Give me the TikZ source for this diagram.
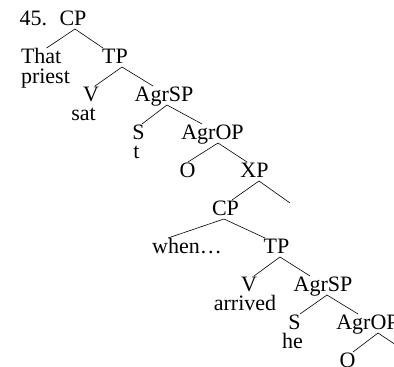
\documentclass[tikz,border=0pt]{standalone}
\usepackage{fontspec}
\setmainfont{Liberation Serif}
\begin{document}
\begin{tikzpicture}[x=1pt,y=-1pt,
  lab/.style={inner sep=0pt,outer sep=0pt,text height=15pt,text depth=4pt,anchor=base,font=\fontsize{22}{19}\selectfont},
  labw/.style={lab,anchor=base west},
  branch/.style={line width=0.6pt,black}]
\useasboundingbox (0,0) rectangle (394,367);
% labels
\node[lab] (num) at (33.5,25) {45.};
\node[lab] (cp1) at (73,25) {CP};
\node[labw] (that) at (21,63) {That};
\node[labw] (priest) at (21,83) {priest};
\node[lab] (tp1) at (115,63) {TP};
\node[lab] (v1) at (91,101) {V};
\node[lab] (sat) at (83.5,120) {sat};
\node[lab] (agrsp1) at (164,101) {AgrSP};
\node[lab] (s1) at (138.5,139) {S};
\node[lab] (t1) at (136.5,158) {t};
\node[lab] (agrop1) at (212.5,139) {AgrOP};
\node[lab] (o1) at (187.5,177) {O};
\node[lab] (xp1) at (254.5,177) {XP};
\coordinate (xpr) at (290,203);
\node[lab] (cp2) at (225.5,215) {CP};
\node[lab] (when) at (187,253) {when…};
\node[lab] (tp2) at (276.5,253) {TP};
\node[lab] (v2) at (249,291) {V};
\node[lab] (arrived) at (245,310) {arrived};
\node[lab] (agrsp2) at (323,291) {AgrSP};
\node[lab] (s2) at (294.5,329) {S};
\node[lab] (he) at (292.5,348) {he};
\node[lab] (agrop2) at (367.5,329) {AgrOP};
\node[lab] (o2) at (347.5,367) {O};
\coordinate (agropr) at (405,351);
% branches
\draw[branch] ([xshift=5.5pt]that.north) -- ([xshift=2pt]cp1.south) -- ([xshift=-12pt]tp1.north);
\draw[branch] ([xshift=4pt]v1.north) -- ([xshift=7pt]tp1.south) -- ([xshift=-11pt]agrsp1.north);
\draw[branch] ([xshift=3.5pt]s1.north) -- ([xshift=3pt]agrsp1.south) -- ([xshift=-10.5pt]agrop1.north);
\draw[branch] ([xshift=0.5pt]o1.north) -- ([xshift=5.5pt]agrop1.south) -- ([xshift=-7.5pt]xp1.north);
\draw[branch] ([xshift=6.5pt]cp2.north) -- ([xshift=4.5pt]xp1.south) -- (xpr);
\draw[branch] ([xshift=-19pt]when.north) -- ([xshift=-1.5pt]cp2.south) -- ([xshift=-11.5pt]tp2.north);
\draw[branch] ([xshift=5pt]v2.north) -- ([xshift=3.5pt]tp2.south) -- ([xshift=-13pt]agrsp2.north);
\draw[branch] ([xshift=5.5pt]s2.north) -- ([xshift=4pt]agrsp2.south) -- ([xshift=-9.5pt]agrop2.north);
\draw[branch] ([xshift=5.5pt]o2.north) -- ([xshift=10.5pt]agrop2.south) -- (agropr);
\end{tikzpicture}
\end{document}
